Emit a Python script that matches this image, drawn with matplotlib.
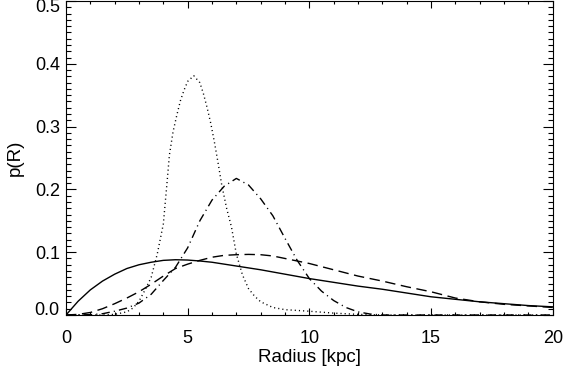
import matplotlib
matplotlib.use("Agg")
import matplotlib.pyplot as plt
from matplotlib.ticker import MultipleLocator, FuncFormatter
from matplotlib.transforms import ScaledTranslation, blended_transform_factory

# ---- data ----
r_solid = [0, 0.5, 1, 1.5, 2, 2.5, 3, 3.5, 4, 4.5, 5, 5.5, 6, 7, 8, 9, 10,
           11, 12, 13, 14, 15, 16, 17, 18, 19, 20]
p_solid = [0, 0.022, 0.040, 0.054, 0.065, 0.074, 0.080, 0.084, 0.087, 0.088,
           0.0875, 0.086, 0.084, 0.078, 0.072, 0.065, 0.058, 0.052, 0.046,
           0.041, 0.035, 0.029, 0.025, 0.021, 0.018, 0.015, 0.013]

r_dashed = [0, 0.5, 1, 1.5, 2, 2.5, 3, 3.5, 4, 4.5, 5, 5.5, 6, 6.5, 7, 7.5,
            8, 8.5, 9, 9.5, 10, 11, 12, 13, 14, 15, 16, 17, 18, 19, 20]
p_dashed = [0, 0.001, 0.004, 0.010, 0.018, 0.027, 0.037, 0.049, 0.062, 0.074,
            0.081, 0.087, 0.092, 0.095, 0.096, 0.0965, 0.096, 0.094, 0.090,
            0.086, 0.082, 0.072, 0.062, 0.054, 0.045, 0.037, 0.027, 0.021,
            0.017, 0.0145, 0.012]

r_dotted = [0, 1.5, 2, 2.5, 2.75, 3, 3.25, 3.5, 3.75, 4, 4.15, 4.25, 4.4,
            4.55, 4.7, 4.85, 5.0, 5.25, 5.5, 5.65, 5.8, 5.95, 6.1, 6.25, 6.4,
            6.6, 6.8, 7.0, 7.25, 7.5, 7.75, 8.0, 8.5, 9, 10, 11, 12, 13, 20]
p_dotted = [0, 0, 0.001, 0.005, 0.011, 0.022, 0.040, 0.060, 0.097, 0.145,
            0.21, 0.255, 0.292, 0.3175, 0.341, 0.358, 0.372, 0.381, 0.370,
            0.352, 0.330, 0.305, 0.275, 0.242, 0.207, 0.170, 0.140, 0.097,
            0.064, 0.042, 0.030, 0.021, 0.012, 0.0085, 0.006, 0.003, 0.001,
            0, 0]

r_dashdot = [0, 1, 1.5, 2, 2.5, 3, 3.5, 4, 4.5, 5, 5.5, 6, 6.5, 7, 7.5, 8,
             8.5, 9, 9.5, 10, 10.5, 11, 11.5, 12, 12.5, 13, 20]
p_dashdot = [0, 0.0005, 0.002, 0.006, 0.011, 0.019, 0.033, 0.055, 0.076,
             0.107, 0.150, 0.183, 0.205, 0.2175, 0.207, 0.185, 0.158, 0.122,
             0.087, 0.058, 0.038, 0.023, 0.012, 0.005, 0.0015, 0, 0]

x_ticks = [0, 5, 10, 15, 20]
y_ticks = [0.0, 0.1, 0.2, 0.3, 0.4, 0.5]
x_label = "Radius [kpc]"
y_label = "p(R)"

# ---- figure ----
plt.rcParams["font.family"] = ["Liberation Sans", "DejaVu Sans"]
plt.rcParams["font.size"] = 13
plt.rcParams["lines.scale_dashes"] = False

fig = plt.figure(figsize=(5.63, 3.70), dpi=100)
ax = fig.add_axes([66 / 563, 55 / 370, 486.7 / 563, 314 / 370])

lw = 1.0
ax.plot(r_solid, p_solid, color="black", lw=lw)
ax.plot(r_dashed, p_dashed, color="black", lw=lw, dashes=(7.5, 4))
ax.plot(r_dotted, p_dotted, color="black", lw=lw, dashes=(0.8, 2.2))
ax.plot(r_dashdot, p_dashdot, color="black", lw=lw, dashes=(6, 3, 0.8, 3))

ax.set_xlim(0, 20)
ax.set_ylim(0, 0.5)

ax.set_xticks(x_ticks)
ax.xaxis.set_minor_locator(MultipleLocator(1))
ax.set_yticks(y_ticks)
ax.yaxis.set_minor_locator(MultipleLocator(0.01))
ax.xaxis.set_major_formatter(FuncFormatter(lambda v, p: "%d" % round(v)))
# inner y labels by formatter; the two end labels are placed as text below
ax.yaxis.set_major_formatter(FuncFormatter(
    lambda v, p: "" if (abs(v - y_ticks[0]) < 1e-9 or abs(v - y_ticks[-1]) < 1e-9)
    else "%.1f" % v))

for s in ax.spines.values():
    s.set_linewidth(0.8)

ax.tick_params(axis="both", which="both", direction="in", top=True,
               right=True, width=0.8, color="black")
ax.tick_params(axis="x", which="major", length=4.8, pad=11)
ax.tick_params(axis="x", which="minor", length=2.2)
ax.tick_params(axis="y", which="major", length=7, pad=4.5)
ax.tick_params(axis="y", which="minor", length=3.6)

# end labels of the y axis, nudged inwards as in the reference
tr = blended_transform_factory(ax.transAxes, ax.transData)
ax.text(0, y_ticks[0], "%.1f" % y_ticks[0], ha="right", va="center",
        transform=tr + ScaledTranslation(-4.5 / 72, 3 / 72, fig.dpi_scale_trans))
ax.text(0, y_ticks[-1], "%.1f" % y_ticks[-1], ha="right", va="center",
        transform=tr + ScaledTranslation(-4.5 / 72, -5 / 72, fig.dpi_scale_trans))

ax.set_xlabel(x_label, labelpad=1, fontsize=13.5)
ax.set_ylabel(y_label, labelpad=8, fontsize=13.5)

fig.savefig("out.png", dpi=100)
